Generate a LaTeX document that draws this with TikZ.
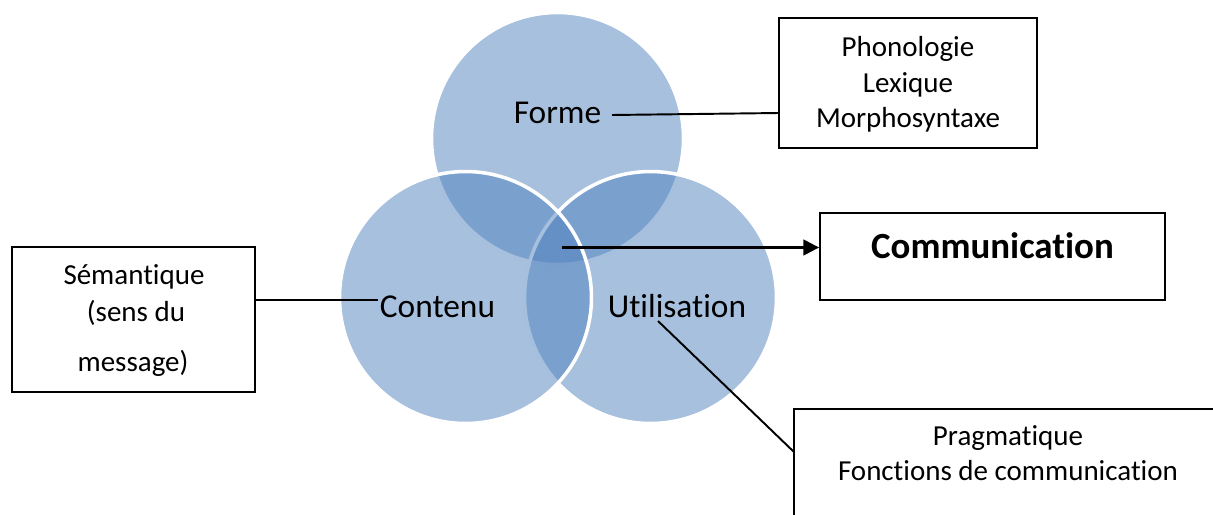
\documentclass[tikz,border=0pt]{standalone}
\usepackage{fontspec}
\setmainfont{Carlito}[Ligatures=NoCommon]
\usetikzlibrary{arrows.meta}
\definecolor{vennblue}{HTML}{4F81BD}
\tikzset{
  venn/.style={circle, inner sep=0pt, minimum size=5.04cm,
    fill=vennblue, fill opacity=0.5, draw=white, line width=2pt},
  bigtext/.style={inner sep=0pt, anchor=base, font=\fontsize{19}{23}\selectfont},
  boxtext/.style={inner sep=0pt, anchor=base, font=\fontsize{16.5}{20}\selectfont},
  commtext/.style={inner sep=0pt, anchor=base, font=\fontsize{21}{25}\selectfont\bfseries},
  box/.style={draw=black, line width=1.1pt, rectangle, inner sep=0pt},
  conn/.style={draw=black, line width=1.1pt},
  arrowconn/.style={draw=black, line width=1.3pt, -{Triangle[length=9pt,width=9pt]}},
}
\begin{document}
\begin{tikzpicture}[x=0.02cm, y=-0.02cm]
  \useasboundingbox (0,0) rectangle (1213,514);
  \clip (0,0) rectangle (1213,514);

  % the three overlapping circles
  \node[venn] (cforme) at (557.5,138.5) {};
  \node[venn] (cutil)  at (650.5,297.5) {};
  \node[venn] (ccont)  at (465.5,297.5) {};

  % circle labels
  \node[bigtext] (forme) at (557.5,123) {Forme};
  \node[bigtext] (cont)  at (437.5,317) {Contenu};
  \node[bigtext] (util)  at (677,317)   {Utilisation};

  % boxes
  \node[box, minimum width=5.16cm, minimum height=2.6cm] (phonbox) at (908,83) {};
  \node[box, minimum width=6.9cm, minimum height=1.74cm] (commbox) at (992.5,256.5) {};
  \node[box, minimum width=4.86cm, minimum height=2.9cm] (sembox) at (133.5,319.5) {};
  \node[box, minimum width=8.92cm, minimum height=2.62cm] (pragbox) at (1017,474.5) {};

  % box texts
  \node[boxtext] (phon)  at (908,56.7)  {Phonologie};
  \node[boxtext] (lex)   at (908,92.7)  {Lexique};
  \node[boxtext] (morph) at (908,127.7) {Morphosyntaxe};
  \node[commtext] (comm) at (992.5,258.3) {Communication};
  \node[boxtext] (sem)   at (134,284.3) {Sémantique};
  \node[boxtext] (sens)  at (136,321)   {(sens du};
  \node[boxtext] (msg)   at (133,371.7) {message)};
  \node[boxtext] (prag)  at (1008,445.3) {Pragmatique};
  \node[boxtext] (fonct) at (1008,480)   {Fonctions de communication};

  % connector end points
  \coordinate (formeout) at (612,115);
  \coordinate (formein)  at (779,113);
  \coordinate (hub)      at (562,247.5);
  \coordinate (contin)   at (378,300);
  \coordinate (utilout)  at (658,321);
  \coordinate (pragin)   at (794,452);

  % connectors
  \draw[conn] (formeout) -- (formein);
  \draw[arrowconn] (hub) -- (commbox.west |- hub);
  \draw[conn] (sembox.east |- contin) -- (contin);
  \draw[conn] (utilout) -- (pragin);
\end{tikzpicture}
\end{document}
